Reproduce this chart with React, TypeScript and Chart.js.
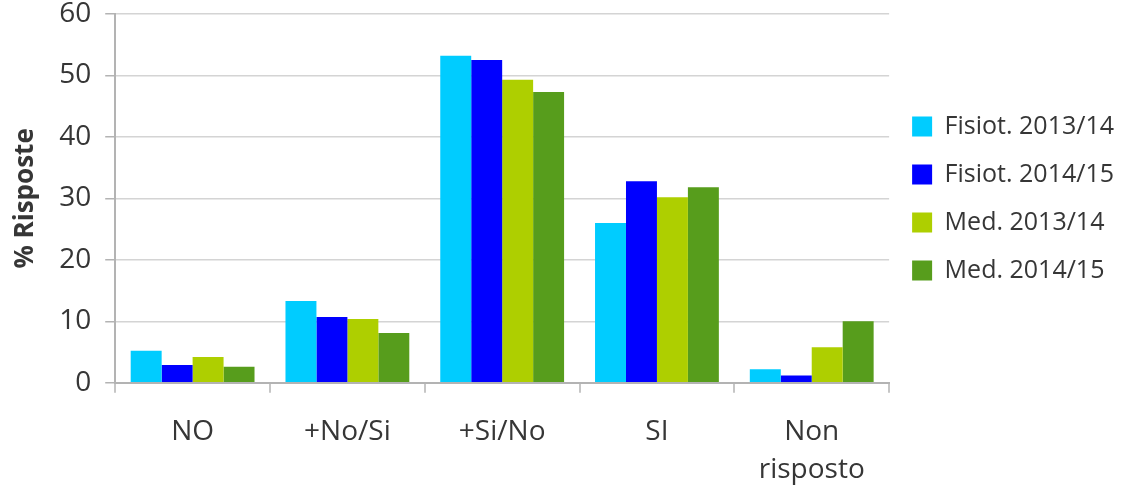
import React, { useEffect, useRef } from "react";
import { Chart, registerables } from "chart.js";

Chart.register(...registerables);

const categories: (string | string[])[] = ["NO", "+No/Si", "+Si/No", "SI", ["Non", "risposto"]];
const seriesNames = ["Fisiot. 2013/14", "Fisiot. 2014/15", "Med. 2013/14", "Med. 2014/15"];
const fisiot1314 = [5.2, 13.3, 53.2, 26.0, 2.2];
const fisiot1415 = [2.9, 10.7, 52.5, 32.8, 1.2];
const med1314 = [4.2, 10.4, 49.3, 30.2, 5.8];
const med1415 = [2.6, 8.1, 47.3, 31.8, 10.0];
const seriesColors = ["#00CCFF", "#0000FF", "#AECF00", "#579D1C"];
const yTicks = [0, 10, 20, 30, 40, 50, 60];

const FONT = "'Open Sans', sans-serif";
const TEXT = "#363636";
const GRID = "#d4d4d4";
const AXIS = "#b3b3b3";

export default function App() {
  const ref = useRef<HTMLCanvasElement | null>(null);

  useEffect(() => {
    if (!ref.current) return;
    const values = [fisiot1314, fisiot1415, med1314, med1415];
    const chart = new Chart(ref.current, {
      type: "bar",
      data: {
        labels: categories,
        datasets: values.map((v, i) => ({
          label: seriesNames[i],
          data: v,
          backgroundColor: seriesColors[i],
          borderWidth: 0,
          categoryPercentage: 0.8,
          barPercentage: 1.0,
        })),
      },
      options: {
        animation: false,
        responsive: true,
        maintainAspectRatio: false,
        layout: { padding: { left: 0, right: 0, top: 0, bottom: -16 } },
        plugins: {
          tooltip: { enabled: false },
          legend: {
            position: "right",
            fullSize: false,
            align: "center",
            maxWidth: 236,
            labels: {
              boxWidth: 20,
              boxHeight: 20,
              padding: 23,
              color: TEXT,
              font: { family: FONT, size: 25 },
            },
          },
        },
        scales: {
          x: {
            offset: true,
            grid: {
              offset: true,
              drawOnChartArea: true,
              color: (ctx: any) => (ctx.index === categories.length ? AXIS : "transparent"),
              lineWidth: 2,
              tickColor: AXIS,
              tickLength: 10,
              tickWidth: 1.5,
            },
            border: { display: true, color: AXIS, width: 2 },
            ticks: {
              color: TEXT,
              padding: 20,
              maxRotation: 0,
              autoSkip: false,
              font: { family: FONT, size: 28, lineHeight: 1.36 },
            },
          },
          y: {
            min: 0,
            max: 60,
            afterBuildTicks: (axis: any) => {
              axis.ticks = yTicks.map((v) => ({ value: v }));
            },
            afterFit: (axis: any) => {
              axis.paddingTop = 14;
              axis.paddingBottom = 14;
            },
            grid: {
              color: GRID,
              lineWidth: 1.5,
              tickColor: AXIS,
              tickLength: 10,
            },
            border: { display: true, color: AXIS, width: 2 },
            ticks: {
              color: TEXT,
              padding: 14,
              font: { family: FONT, size: 28, lineHeight: 1.0 },
            },
            title: {
              display: true,
              text: "% Risposte",
              color: TEXT,
              padding: { top: 10, bottom: 4 },
              font: { family: FONT, size: 26, weight: "bold", lineHeight: 1.2 },
            },
          },
        },
      },
    });
    return () => chart.destroy();
  }, []);

  return (
    <div style={{ position: "fixed", left: 0, top: 0, width: 1124, height: 493, background: "#fff" }}>
      <canvas ref={ref} />
    </div>
  );
}
